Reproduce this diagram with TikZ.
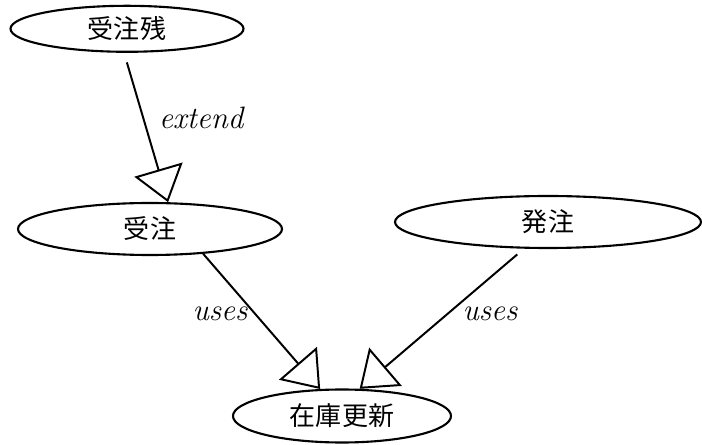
\documentclass[tikz,border=0pt]{standalone}
\usepackage{fontspec}
\newfontfamily\cjk{Noto Sans CJK JP}
\usetikzlibrary{shapes.geometric, arrows.meta}

\begin{document}
\begin{tikzpicture}[
    usecase/.style={ellipse, draw, line width=1.5pt, inner sep=0pt,
        font=\cjk\fontsize{18.5}{20}\selectfont},
    relname/.style={font=\fontsize{22}{24}\selectfont\itshape},
    rel/.style={line width=1.4pt, -{Triangle[open, length=0.85cm, width=1.25cm]}}
]
    \useasboundingbox (0,0) rectangle (17.55,-11.125);

    % =================================================================
    % CÁC CA SỬ DỤNG (HÌNH ELIP)
    % =================================================================
    \node[usecase, minimum width=5.825cm, minimum height=1.15cm] (ordrem) at (3.175,-0.72) {受注残};
    \node[usecase, minimum width=6.6cm, minimum height=1.3cm] (order) at (3.75,-5.725) {受注};
    \node[usecase, minimum width=7.65cm, minimum height=1.3cm] (purch) at (13.7,-5.55) {発注};
    \node[usecase, minimum width=5.45cm, minimum height=1.325cm] (stock) at (8.55,-10.4) {在庫更新};

    % =================================================================
    % QUAN HỆ GIỮA CÁC CA (MŨI TÊN TAM GIÁC RỖNG)
    % =================================================================
    \draw[rel, shorten <=0.25cm] (ordrem.-97) -- (order.56);
    \draw[rel] (order.-25) -- (stock.129);
    \draw[rel, shorten <=0.22cm] (purch.-132) -- (stock.57);

    % Nhãn của quan hệ
    \node[relname] (lblext) at (5.03,-2.95) {extend};
    \node[relname] (lbluse1) at (5.5,-7.85) {uses};
    \node[relname] (lbluse2) at (12.25,-7.85) {uses};

\end{tikzpicture}
\end{document}
